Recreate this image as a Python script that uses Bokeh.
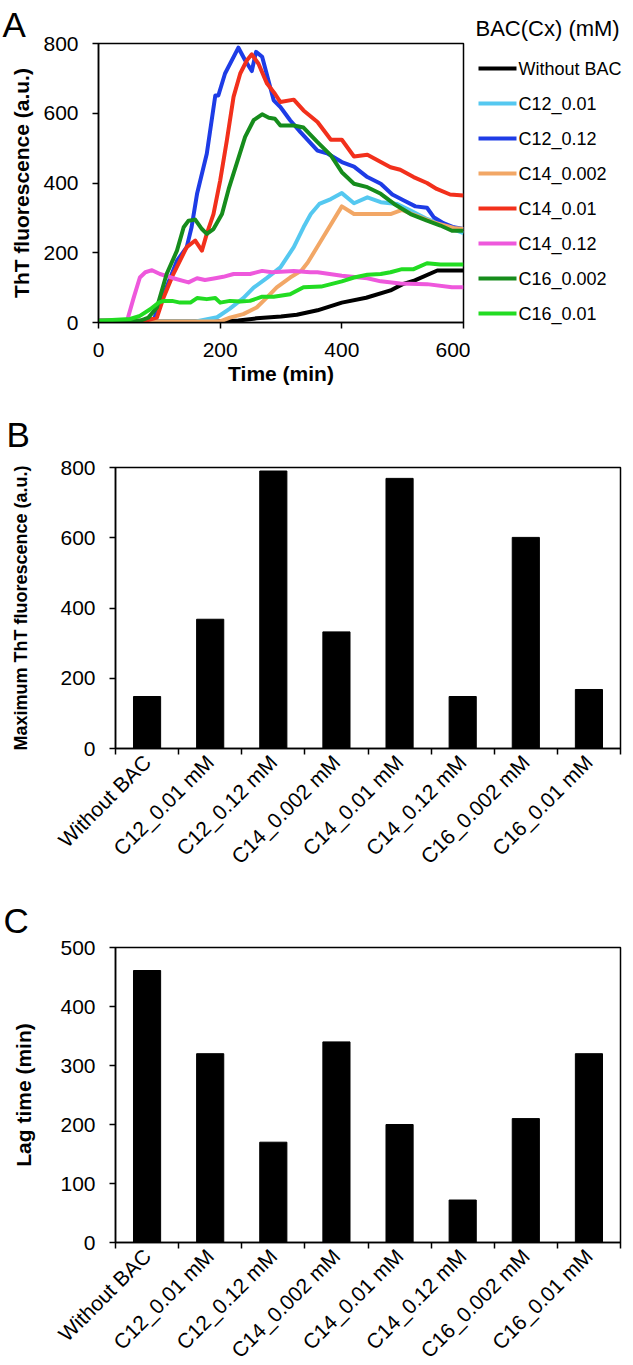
import math
from bokeh.plotting import figure
from bokeh.models import Range1d, FixedTicker, Title
from bokeh.core.properties import value
from bokeh.layouts import column, row
from bokeh.embed import file_html
from bokeh.resources import INLINE

FONT = "Liberation Sans"

# ---------------- Panel A data (ThT fluorescence vs time) ----------------
series_names = ["Without BAC", "C12_0.01", "C12_0.12", "C14_0.002",
                "C14_0.01", "C14_0.12", "C16_0.002", "C16_0.01"]
series_colors = ["#000000", "#55C8F0", "#1E3CE6", "#F2A766",
                 "#F2301C", "#EE58DC", "#168C1C", "#22DC22"]

t_without = [0, 200, 230, 260, 300, 326, 360, 400, 440, 480, 500, 520, 557, 600]
v_without = [3, 3, 6, 12, 17, 22, 35, 57, 71, 92, 110, 121, 149, 149]

t_c12_001 = [0, 160, 195, 216, 238, 255, 277, 299, 321, 337, 349, 363, 382, 400,
             420, 442, 464, 491, 513, 540, 567, 600]
v_c12_001 = [3, 3, 15, 40, 70, 100, 128, 158, 216, 273, 311, 340, 354, 371,
             342, 359, 345, 340, 321, 297, 278, 256]

t_c12_012 = [0, 90, 101, 129, 145, 153, 162, 178, 192, 197, 208, 230, 241, 252,
             259, 269, 288, 299, 315, 332, 360, 377, 400, 420, 442, 464, 483,
             502, 521, 540, 551, 567, 584, 600]
v_c12_012 = [5, 5, 53, 177, 216, 273, 369, 484, 651, 651, 714, 788, 752, 721,
             776, 762, 637, 618, 580, 546, 493, 484, 460, 447, 417, 398, 367,
             350, 333, 329, 302, 285, 273, 268]

t_c14_0002 = [0, 200, 216, 238, 260, 277, 293, 315, 333, 344, 366, 400, 420,
              480, 499, 518, 551, 584, 600]
v_c14_0002 = [3, 3, 14, 24, 43, 72, 101, 129, 148, 172, 235, 333, 311,
              311, 323, 309, 287, 271, 268]

t_c14_001 = [0, 77, 96, 107, 123, 145, 159, 170, 178, 189, 200, 211, 222, 233,
             244, 252, 263, 277, 290, 299, 321, 337, 360, 382, 400, 420, 442,
             480, 496, 518, 540, 556, 578, 600]
v_c14_001 = [5, 5, 14, 72, 139, 216, 235, 206, 254, 311, 407, 522, 647, 714,
             752, 769, 742, 685, 656, 632, 639, 608, 575, 524, 524, 476, 481,
             445, 438, 417, 400, 383, 367, 364]

t_c14_012 = [0, 47, 58, 68, 77, 88, 101, 123, 148, 162, 175, 192, 205, 222,
             249, 269, 285, 321, 348, 360, 400, 442, 464, 496, 540, 581, 600]
v_c14_012 = [5, 5, 72, 129, 144, 150, 139, 127, 115, 127, 122, 127, 131, 139,
             139, 148, 144, 148, 144, 144, 134, 127, 118, 112, 110, 101, 101]

t_c16_0002 = [0, 68, 82, 96, 112, 129, 140, 148, 159, 170, 178, 189, 203, 214,
              227, 241, 255, 269, 280, 290, 299, 321, 337, 360, 382, 400, 420,
              442, 464, 486, 513, 540, 562, 581, 600]
v_c16_0002 = [5, 5, 14, 43, 139, 206, 273, 292, 295, 268, 254, 268, 311, 383,
              455, 532, 580, 597, 587, 584, 565, 565, 559, 517, 479, 431, 398,
              388, 369, 340, 311, 292, 278, 263, 263]

t_c16_001 = [0, 52, 68, 85, 99, 107, 121, 134, 151, 162, 178, 192, 200, 216,
             233, 249, 269, 288, 315, 337, 366, 400, 420, 442, 464, 480, 499,
             518, 540, 562, 600]
v_c16_001 = [5, 10, 19, 38, 57, 62, 62, 57, 57, 70, 67, 70, 57, 62,
             60, 62, 74, 74, 81, 101, 103, 118, 129, 137, 139, 144, 153,
             153, 170, 166, 166]

series_t = [t_without, t_c12_001, t_c12_012, t_c14_0002, t_c14_001, t_c14_012, t_c16_0002, t_c16_001]
series_v = [v_without, v_c12_001, v_c12_012, v_c14_0002, v_c14_001, v_c14_012, v_c16_0002, v_c16_001]

time_ticks = [0, 200, 400, 600]
tht_ticks = [0, 200, 400, 600, 800]

# ---------------- Panel B / C data ----------------
categories = ["Without BAC", "C12_0.01 mM", "C12_0.12 mM", "C14_0.002 mM",
              "C14_0.01 mM", "C14_0.12 mM", "C16_0.002 mM", "C16_0.01 mM"]
max_tht = [148, 368, 790, 332, 769, 148, 601, 168]
lag_time = [461, 320, 170, 340, 200, 72, 210, 320]
lag_ticks = [0, 100, 200, 300, 400, 500]


def style(p):
    p.grid.visible = False
    p.outline_line_color = "black"
    p.outline_line_width = 1.5
    p.background_fill_color = "white"
    p.border_fill_color = "white"
    for ax in p.axis:
        ax.axis_line_color = "black"
        ax.axis_line_width = 1.5
        ax.major_tick_line_color = "black"
        ax.major_tick_line_width = 1.5
        ax.major_tick_in = 0
        ax.major_tick_out = 6
        ax.minor_tick_line_color = None
        ax.major_label_text_font = FONT
        ax.major_label_text_font_size = "21px"
        ax.major_label_text_color = "black"
        ax.axis_label_text_font = FONT
        ax.axis_label_text_font_size = "21px"
        ax.axis_label_text_font_style = "bold"
        ax.axis_label_text_color = "black"


def panel_letter(p, txt, offset, standoff):
    p.title.text = txt
    p.title.text_font = FONT
    p.title.text_font_size = "35px"
    p.title.text_font_style = "normal"
    p.title.text_color = "black"
    p.title.align = "left"
    p.title.offset = offset
    p.title.standoff = standoff


def y_title(p, txt, standoff, size="21px"):
    p.add_layout(Title(text=txt, align="center", text_font=FONT, text_font_size=size,
                       text_font_style="bold", text_color="black", standoff=standoff), "left")


# ---------------- Panel A ----------------
pA = figure(frame_width=365, frame_height=279, min_border_left=98, min_border_right=7,
            min_border_top=43, min_border_bottom=75,
            x_range=Range1d(0, 600), y_range=Range1d(0, 800),
            output_backend="svg", toolbar_location=None)
style(pA)
pA.xaxis.ticker = FixedTicker(ticks=time_ticks)
pA.yaxis.ticker = FixedTicker(ticks=tht_ticks)
pA.xaxis.axis_label = "Time (min)"
pA.xaxis.major_label_standoff = 14
pA.yaxis.major_label_standoff = 14
pA.xaxis.axis_label_standoff = 2
y_title(pA, "ThT fluorescence (a.u.)", 15)

for col, ts, vs in zip(series_colors, series_t, series_v):
    pA.line(ts, vs, line_color=col, line_width=4, line_join="round")
panel_letter(pA, "A", -96, 0)

# ---------------- Legend panel (right of panel A) ----------------
LEG_W = 163
LEG_H = 300
pL = figure(frame_width=LEG_W, frame_height=LEG_H, min_border_left=0, min_border_right=0,
            min_border_top=43, min_border_bottom=54,
            x_range=Range1d(0, LEG_W), y_range=Range1d(LEG_H, 0),
            x_axis_location=None, y_axis_location=None,
            output_backend="svg", toolbar_location=None)
pL.grid.visible = False
pL.outline_line_color = None
pL.title.text = "BAC(Cx) (mM)"
pL.title.text_font = FONT
pL.title.text_font_size = "22px"
pL.title.text_font_style = "normal"
pL.title.text_color = "black"
pL.title.align = "left"
pL.title.offset = 5
pL.title.standoff = 5

row_y = [25 + 35 * i for i in range(len(series_names))]
pL.segment(x0=[8] * len(row_y), y0=row_y, x1=[46] * len(row_y), y1=row_y,
           line_color=series_colors, line_width=4)
pL.text(x=[48] * len(row_y), y=row_y, text=series_names,
        text_font=value(FONT), text_font_size=value("18px"), text_color="black",
        text_baseline="middle", text_align="left")

# ---------------- Panels B and C ----------------
xpos = list(range(1, len(categories) + 1))
overrides = {i: c for i, c in zip(xpos, categories)}


def bar_panel(values, yticks, ymax, ylabel, ysize, ystand, letter, top, bottom, left, fh, loff, lstand):
    p = figure(frame_width=505, frame_height=fh, min_border_left=left, min_border_right=10,
               min_border_top=top, min_border_bottom=bottom,
               x_range=Range1d(0.5, len(categories) + 0.5), y_range=Range1d(0, ymax),
               output_backend="svg", toolbar_location=None)
    style(p)
    p.vbar(x=xpos, top=values, width=0.43, fill_color="black", line_color="black")
    p.xaxis.ticker = FixedTicker(ticks=xpos, minor_ticks=[x - 0.5 for x in xpos] + [len(categories) + 0.5])
    p.xaxis.major_label_overrides = overrides
    p.xaxis.major_tick_line_color = None
    p.xaxis.minor_tick_line_color = "black"
    p.xaxis.minor_tick_line_width = 1.5
    p.xaxis.minor_tick_in = 0
    p.xaxis.minor_tick_out = 6
    p.xaxis.major_label_orientation = math.pi / 4
    p.xaxis.major_label_text_font_size = "21px"
    p.xaxis.major_label_standoff = 4
    p.yaxis.ticker = FixedTicker(ticks=yticks)
    p.yaxis.major_label_standoff = 14
    # second (blank) line keeps the bold title away from the tick labels
    y_title(p, ylabel + "\n\u00a0", ystand, ysize)
    panel_letter(p, letter, loff, lstand)
    return p


pB = bar_panel(max_tht, tht_ticks, 800, "Maximum ThT fluorescence (a.u.)", "18px", 13, "B",
               70, 141, 112, 281, -109, 28)
pC = bar_panel(lag_time, lag_ticks, 500, "Lag time (min)", "21px", 0, "C",
               58, 110, 115, 295, -112, 16)

layout = column(row(pA, pL, spacing=0), pB, pC, spacing=0)
open("out.html", "w").write(file_html(layout, INLINE))
